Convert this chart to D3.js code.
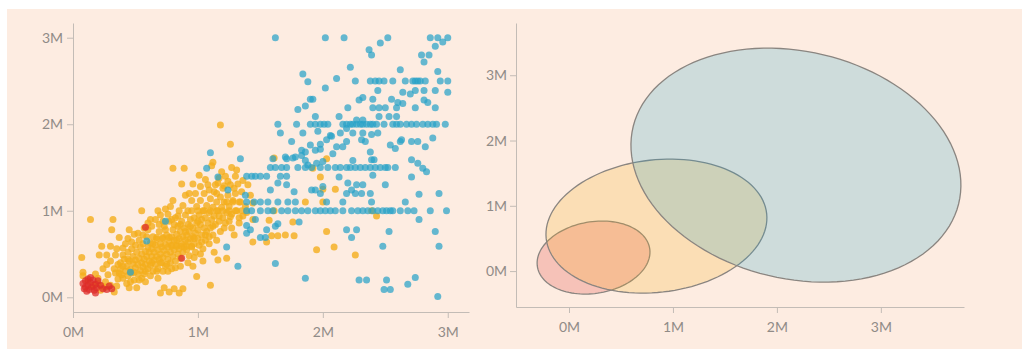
<!DOCTYPE html>
<html><head><meta charset="utf-8">
<script src="https://cdn.jsdelivr.net/npm/d3@7"></script>
<style>
html,body{margin:0;padding:0;background:#fff;}
svg{display:block;}
.axis text{font-family:Lato,"Open Sans",sans-serif;font-size:14px;fill:#908b87;}
.axis path,.axis line{stroke:#c3bcb6;stroke-width:1;}
</style></head><body>
<svg id="c" width="1022" height="349"></svg>
<script>
const xTicks=[0,1,2,3];
const yTicks=[0,1,2,3];
const tickSuffix="M";

const bluePoints=[
[1.62,3.0],[2.02,3.0],[2.17,3.0],[2.52,3.0],[2.86,3.0],[2.92,3.0],[3.0,3.0],
[2.96,2.95],[2.90,2.90],[2.46,2.94],[2.37,2.86],[2.39,2.80],[2.79,2.80],[2.85,2.80],[2.81,2.72],
[2.22,2.66],[2.62,2.63],[2.92,2.61],[1.84,2.58],[1.88,2.49],[2.11,2.53],
[2.26,2.5],[2.38,2.5],[2.42,2.5],[2.45,2.5],[2.49,2.5],[2.56,2.5],[2.66,2.5],[2.72,2.5],[2.74,2.5],[2.76,2.5],[2.78,2.5],[2.82,2.5],[2.94,2.5],[3.0,2.5],
[2.02,2.42],[2.44,2.39],[2.64,2.37],[2.70,2.35],[2.74,2.39],[2.81,2.39],[2.90,2.39],[3.0,2.37],
[2.29,2.28],[2.32,2.31],[1.90,2.29],[1.92,2.29],[2.40,2.29],[2.55,2.29],[2.60,2.25],[2.81,2.28],[2.84,2.25],
[1.80,2.17],[1.86,2.21],[1.94,2.09],[2.20,2.19],[2.40,2.19],[2.45,2.19],[2.50,2.19],[2.59,2.19],[2.64,2.24],[2.74,2.19],[2.90,2.19],
[2.53,2.09],[2.59,2.09],[2.45,2.09],[2.13,2.09],
[1.64,2],[1.79,2],[1.90,2],[1.94,2],[1.98,2],[2.01,2],[2.04,2],[2.16,2],[2.19,2],[2.22,2],[2.24,2],[2.27,2],[2.30,2],[2.32,2],[2.35,2],[2.38,2],[2.40,2],[2.43,2],[2.49,2],[2.56,2],[2.59,2],[2.62,2],[2.67,2],[2.71,2],[2.75,2],[2.80,2],[2.84,2],[2.88,2],[2.91,2],[2.98,2],
[2.27,2.05],[2.32,2.05],[2.19,1.95],[2.24,1.90],
[1.66,1.90],[1.84,1.90],[1.96,1.92],[2.06,1.87],[2.14,1.90],[2.32,1.90],[2.44,1.90],[2.19,1.80],[2.31,1.82],[2.34,1.80],[2.39,1.88],[2.54,1.76],[2.58,1.72],[2.62,1.80],[2.71,1.80],[2.76,1.80],[2.82,1.74],[2.88,1.84],[2.63,1.82],
[1.75,1.80],[1.90,1.76],[1.98,1.77],[2.03,1.82],[2.07,1.86],[1.86,1.68],[1.94,1.70],[2.08,1.66],[2.11,1.74],[2.16,1.74],[2.38,1.68],[2.41,1.59],[2.71,1.59],[2.76,1.55],
[1.70,1.62],[1.78,1.62],[1.83,1.64],[1.86,1.58],[1.88,1.53],[1.95,1.55],[2.0,1.57],[2.24,1.58],[2.39,1.59],[1.60,1.60],[1.71,1.60],[1.76,1.61],[1.83,1.70],[1.98,1.71],
[1.58,1.5],[1.62,1.5],[1.67,1.5],[1.71,1.5],[1.80,1.5],[1.86,1.5],[1.91,1.5],[1.98,1.5],[2.04,1.5],[2.10,1.5],[2.14,1.5],[2.19,1.5],[2.22,1.5],[2.26,1.5],[2.30,1.5],[2.34,1.5],[2.38,1.5],[2.42,1.5],[2.46,1.5],[2.50,1.5],[2.52,1.5],[2.58,1.5],
[2.80,1.49],[2.83,1.45],[2.71,1.39],[2.40,1.41],[2.13,1.39],[2.20,1.32],[2.27,1.30],[2.32,1.30],[2.23,1.24],[2.26,1.20],[2.19,1.20],[2.31,1.20],[2.38,1.20],[2.50,1.30],[2.77,1.19],[2.93,1.20],
[1.39,1.4],[1.43,1.4],[1.46,1.4],[1.50,1.4],[1.55,1.4],[1.66,1.4],[1.71,1.4],
[1.39,1.1],[1.45,1.1],[1.50,1.1],[1.56,1.1],[1.64,1.1],[1.72,1.1],[1.78,1.1],[2.03,1.1],[2.16,1.1],[2.39,1.1],[2.66,1.1],
[1.39,1],[1.43,1],[1.50,1],[1.56,1],[1.60,1],[1.67,1],[1.72,1],[1.78,1],[1.83,1],[1.88,1],[1.94,1],[1.98,1],[2.02,1],[2.06,1],[2.10,1],[2.16,1],[2.23,1],[2.28,1],[2.32,1],[2.36,1],[2.40,1],[2.44,1],[2.48,1],[2.51,1],[2.54,1],[2.56,1],[2.62,1],[2.68,1],[2.73,1],[2.86,1],[2.99,1],
[2.77,0.90],[2.19,0.78],[2.27,0.78],[2.23,0.69],[2.53,0.76],[2.90,0.76],[2.48,0.59],[2.93,0.59],[2.29,0.20],[2.35,0.20],[2.51,0.20],[2.49,0.09],[2.54,0.09],[2.68,0.15],[2.74,0.23],[2.92,0.01],
[1.10,1.67],[1.34,1.60],[1.58,1.24],[1.64,1.32],[1.71,1.30],[1.77,1.22],[1.91,1.24],[1.94,1.24],[2.0,1.28],[1.98,1.20],[1.46,0.90],[1.39,0.83],[1.42,0.78],[1.55,0.78],[1.50,0.69],[1.54,0.69],[1.62,0.82],[1.64,0.85],[1.81,0.87],[1.23,0.58],[1.32,0.36],[1.62,0.39],[1.86,0.22],
[1.07,1.49],[1.16,1.39],[1.24,1.24],[1.38,1.18],[1.39,0.74],[0.74,0.88],[0.59,0.65],[0.46,0.29]
];

const orangePoints=[
[0.07,0.46],[0.08,0.29],[0.08,0.25],[0.14,0.90],[0.32,0.90],[0.31,0.78],[0.23,0.59],[0.30,0.59],[0.21,0.49],[0.27,0.49],[0.34,0.49],[0.40,0.49],[0.24,0.33],[0.20,0.22],[0.26,0.18],[0.30,0.14],[0.33,0.06],[0.16,0.13],[0.18,0.27],[0.28,0.26],[0.33,0.33],[0.36,0.21],[0.12,0.19],[0.22,0.08],[0.35,0.13],[0.37,0.28],[0.38,0.40],[0.45,0.78],[0.37,0.69],[0.55,1.0],[0.42,0.62],
[0.17,0.14],[0.20,0.16],[0.23,0.13],[0.26,0.12],
[0.40,0.22],[0.42,0.30],[0.43,0.36],[0.44,0.25],[0.45,0.42],[0.46,0.32],[0.47,0.28],[0.48,0.39],[0.48,0.47],[0.49,0.20],[0.50,0.34],[0.50,0.43],[0.51,0.52],[0.52,0.27],[0.52,0.38],[0.53,0.45],[0.54,0.31],[0.54,0.58],[0.55,0.40],[0.55,0.50],[0.56,0.35],[0.56,0.62],[0.57,0.44],[0.57,0.27],[0.58,0.53],[0.58,0.38],[0.59,0.47],[0.59,0.70],[0.60,0.33],[0.60,0.58],[0.41,0.44],[0.44,0.52],[0.46,0.18],[0.38,0.33],[0.39,0.26],[0.36,0.38],[0.43,0.16],[0.47,0.56],[0.50,0.60],[0.53,0.66],[0.49,0.73],[0.57,0.80],[0.44,0.68],[0.40,0.57],[0.51,0.11],[0.45,0.11],[0.55,0.22],[0.58,0.18],
[0.61,0.42],[0.61,0.52],[0.62,0.37],[0.62,0.63],[0.63,0.47],[0.63,0.56],[0.64,0.30],[0.64,0.70],[0.65,0.43],[0.65,0.52],[0.66,0.60],[0.66,0.38],[0.67,0.47],[0.67,0.67],[0.68,0.55],[0.68,0.33],[0.69,0.44],[0.69,0.76],[0.70,0.50],[0.70,0.62],[0.71,0.40],[0.71,0.58],[0.72,0.68],[0.72,0.46],[0.73,0.54],[0.73,0.82],[0.74,0.36],[0.74,0.61],[0.75,0.50],[0.75,0.72],[0.76,0.44],[0.76,0.58],[0.77,0.65],[0.77,0.88],[0.78,0.52],[0.78,0.40],[0.79,0.70],[0.79,0.60],[0.80,0.47],[0.80,0.78],[0.81,0.55],[0.81,0.66],[0.82,0.92],[0.82,0.42],[0.83,0.73],[0.83,0.60],[0.84,0.50],[0.84,0.82],[0.85,0.68],[0.85,0.56],[0.86,0.45],[0.86,0.76],[0.87,0.62],[0.87,0.88],[0.88,0.70],[0.88,0.52],[0.89,0.80],[0.89,0.58],[0.90,0.66],[0.90,0.95],[0.63,0.82],[0.66,0.90],[0.70,0.95],[0.74,1.02],[0.78,1.05],[0.62,0.25],[0.68,0.22],[0.72,0.30],[0.76,0.30],[0.82,0.34],[0.86,0.36],[0.80,1.12],[0.85,1.0],[0.70,0.05],[0.77,0.06],[0.81,0.10],[0.85,0.05],[0.88,0.10],[0.73,0.11],
[0.79,0.59],[0.83,0.59],[0.87,0.59],[0.91,0.59],[0.95,0.59],[0.67,0.69],[0.72,0.69],[0.77,0.69],
[0.91,0.72],[0.91,0.55],[0.92,0.84],[0.92,0.64],[0.93,0.48],[0.93,0.76],[0.94,0.90],[0.94,0.68],[0.95,0.58],[0.95,1.00],[0.96,0.80],[0.96,0.70],[0.97,0.62],[0.97,0.92],[0.98,0.74],[0.98,0.52],[0.99,0.86],[0.99,1.05],[1.00,0.68],[1.00,0.78],[1.01,0.95],[1.01,0.60],[1.02,0.84],[1.02,1.12],[1.03,0.72],[1.03,0.90],[1.04,1.00],[1.04,0.56],[1.05,0.80],[1.05,1.20],[1.06,0.92],[1.06,0.66],[1.07,1.06],[1.07,0.76],[1.08,0.86],[1.08,1.30],[1.09,0.98],[1.09,0.62],[1.10,1.14],[1.10,0.80],[1.11,0.90],[1.12,1.04],[1.12,0.72],[1.13,1.22],[1.13,0.94],[1.14,0.84],[1.15,1.10],[1.15,0.66],[1.16,1.00],[1.16,1.32],[1.17,0.88],[1.18,1.16],[1.18,0.76],[1.19,1.04],[1.20,0.92],[1.20,1.26],[0.99,0.24],[1.10,0.14],[1.16,0.43],[1.04,0.42],[0.96,0.36],[1.13,0.52],[0.93,1.20],[0.87,1.31],[0.96,1.31],[1.01,1.41],[0.80,1.49],[0.89,1.49],[1.11,1.52],[0.90,1.18],
[1.21,1.10],[1.21,0.80],[1.22,1.40],[1.23,0.98],[1.24,1.18],[1.25,0.88],[1.25,1.05],[1.26,1.30],[1.27,1.50],[1.27,0.96],[1.28,1.12],[1.29,0.72],[1.30,1.40],[1.30,1.20],[1.31,1.00],[1.32,1.31],[1.33,0.86],[1.34,1.10],[1.35,1.22],[1.36,0.94],[1.38,1.05],[1.40,1.30],[1.42,1.18],[1.44,0.90],[1.18,1.99],[1.26,1.77],[1.21,1.29],[1.19,1.45],[1.12,1.56],[1.26,0.93],[1.23,0.45],
[1.00,1],[1.05,1],[1.10,1],[1.15,1],[1.20,1],[1.25,1],[1.30,1],[1.35,1],[1.23,1.1],[1.28,1.1],[1.33,1.1],
[0.62,0.90],[0.68,1.00],[0.72,0.88],[0.76,0.96],[0.81,0.84],[0.84,0.94],[0.88,1.06],[0.92,1.00],[0.95,1.12],[0.98,1.20],[1.02,1.28],[1.06,1.36],[1.09,1.24],[1.14,1.30],[1.17,1.38],[1.24,1.34],[1.29,1.26],[1.36,1.35],[1.31,1.47],[1.15,1.20],
[0.56,0.72],[0.60,0.78],[0.64,0.62],[0.69,0.84],[0.74,0.78],[0.79,0.90],[0.83,0.66],[0.86,0.84],[0.90,0.76],[0.94,0.82],[0.97,0.68],[1.00,0.88],[1.03,0.64],[1.06,0.72],[1.09,0.70],[1.12,0.82],[1.17,0.94],[1.22,0.86],[1.27,0.80],[1.33,0.92],[1.39,0.98],
[0.30,0.42],[0.34,0.28],[0.40,0.36],[0.44,0.44],[0.49,0.29],[0.53,0.20],[0.58,0.30],[0.63,0.40],[0.67,0.30],[0.70,0.40],[0.75,0.38],[0.79,0.33],[0.92,0.40],[0.97,0.46],[1.02,0.50],[0.35,0.56],[0.47,0.64],[0.52,0.74],[0.60,0.86],[0.27,0.38],
[1.61,1.61],[1.44,0.64],[1.55,0.64],[1.59,0.71],[1.64,0.71],[1.70,0.72],[1.77,0.71],[1.57,0.89],[1.76,0.87],[1.61,1.0],[1.86,1.10],[1.95,0.55],[2.03,0.76],[2.09,0.58],[2.26,0.49],[2.0,1.25],[2.10,1.25],[1.98,1.39],[2.03,1.60],[1.92,1.49],[2.0,1.10],[2.43,0.94],[2.39,1.0],[1.44,1.09]
];

const redPoints=[
[0.08,0.16],[0.10,0.12],[0.10,0.19],[0.12,0.14],[0.12,0.21],[0.13,0.09],[0.14,0.17],[0.15,0.12],[0.16,0.20],[0.17,0.08],[0.18,0.15],[0.19,0.11],[0.20,0.19],[0.11,0.07],[0.09,0.10],[0.22,0.14],[0.24,0.10],[0.27,0.09],[0.29,0.13],[0.31,0.10],[0.14,0.23],[0.18,0.05],[0.58,0.81],[0.87,0.45]
];

const ellipseNames=["red","orange","blue"];
const ellipseCx=[0.236,0.841,2.183];
const ellipseCy=[0.207,0.689,1.623];
const ellipseRx=[0.592,1.109,1.860];
const ellipseRy=[0.507,0.976,1.507];
const ellipseAngleDeg=[50.6,37.0,117.2];

const colors={red:"#dd2c2a",orange:"#f4ae1b",blue:"#28a2c8"};

const svg=d3.select("#c");
svg.append("rect").attr("x",7).attr("y",9).attr("width",1015).attr("height",340).attr("fill","#fdece1");

// Left scatter
const x1=d3.scaleLinear().domain([0,3.17]).range([73,469]);
const y1=d3.scaleLinear().domain([-0.17,3.17]).range([312,23]);
const fmt=d=>d+tickSuffix;
svg.append("g").attr("class","axis").attr("transform","translate(0,312)")
  .call(d3.axisBottom(x1).tickValues(xTicks).tickFormat(fmt).tickSizeOuter(0).tickPadding(9));
svg.append("g").attr("class","axis").attr("transform","translate(73,0)")
  .call(d3.axisLeft(y1).tickValues(yTicks).tickFormat(fmt).tickSizeOuter(0).tickPadding(4));

const gp=svg.append("g");
function drawPts(arr,col,op){
  gp.append("g").selectAll("circle").data(arr).join("circle")
    .attr("cx",d=>x1(d[0])).attr("cy",d=>y1(d[1])).attr("r",3.5)
    .attr("fill",col).attr("fill-opacity",op);
}
drawPts(orangePoints,colors.orange,0.8);
drawPts(bluePoints,colors.blue,0.72);
drawPts(redPoints,colors.red,0.75);

// Right ellipses
const x2=d3.scaleLinear().domain([-0.51,3.8]).range([516,964]);
const y2=d3.scaleLinear().domain([-0.55,3.8]).range([307,23]);
svg.append("g").attr("class","axis").attr("transform","translate(0,307)")
  .call(d3.axisBottom(x2).tickValues(xTicks).tickFormat(fmt).tickSizeOuter(0).tickPadding(9));
svg.append("g").attr("class","axis").attr("transform","translate(516,0)")
  .call(d3.axisLeft(y2).tickValues(yTicks).tickFormat(fmt).tickSizeOuter(0).tickPadding(3));

const steps=d3.range(0,120);
const line=d3.line().x(d=>x2(d[0])).y(d=>y2(d[1])).curve(d3.curveLinearClosed);
const ellipses=ellipseNames.map((n,i)=>{
  const th=ellipseAngleDeg[i]*Math.PI/180;
  const pts=steps.map(k=>{
    const t=k/steps.length*2*Math.PI;
    const a=ellipseRx[i]*Math.cos(t), b=ellipseRy[i]*Math.sin(t);
    return [ellipseCx[i]+a*Math.cos(th)-b*Math.sin(th), ellipseCy[i]+a*Math.sin(th)+b*Math.cos(th)];
  });
  return {name:n,pts};
});
svg.append("g").selectAll("path").data(ellipses).join("path")
  .attr("d",d=>line(d.pts))
  .attr("fill",d=>colors[d.name]).attr("fill-opacity",0.22)
  .attr("stroke","#8a8580").attr("stroke-width",1.3);
</script>
</body></html>
